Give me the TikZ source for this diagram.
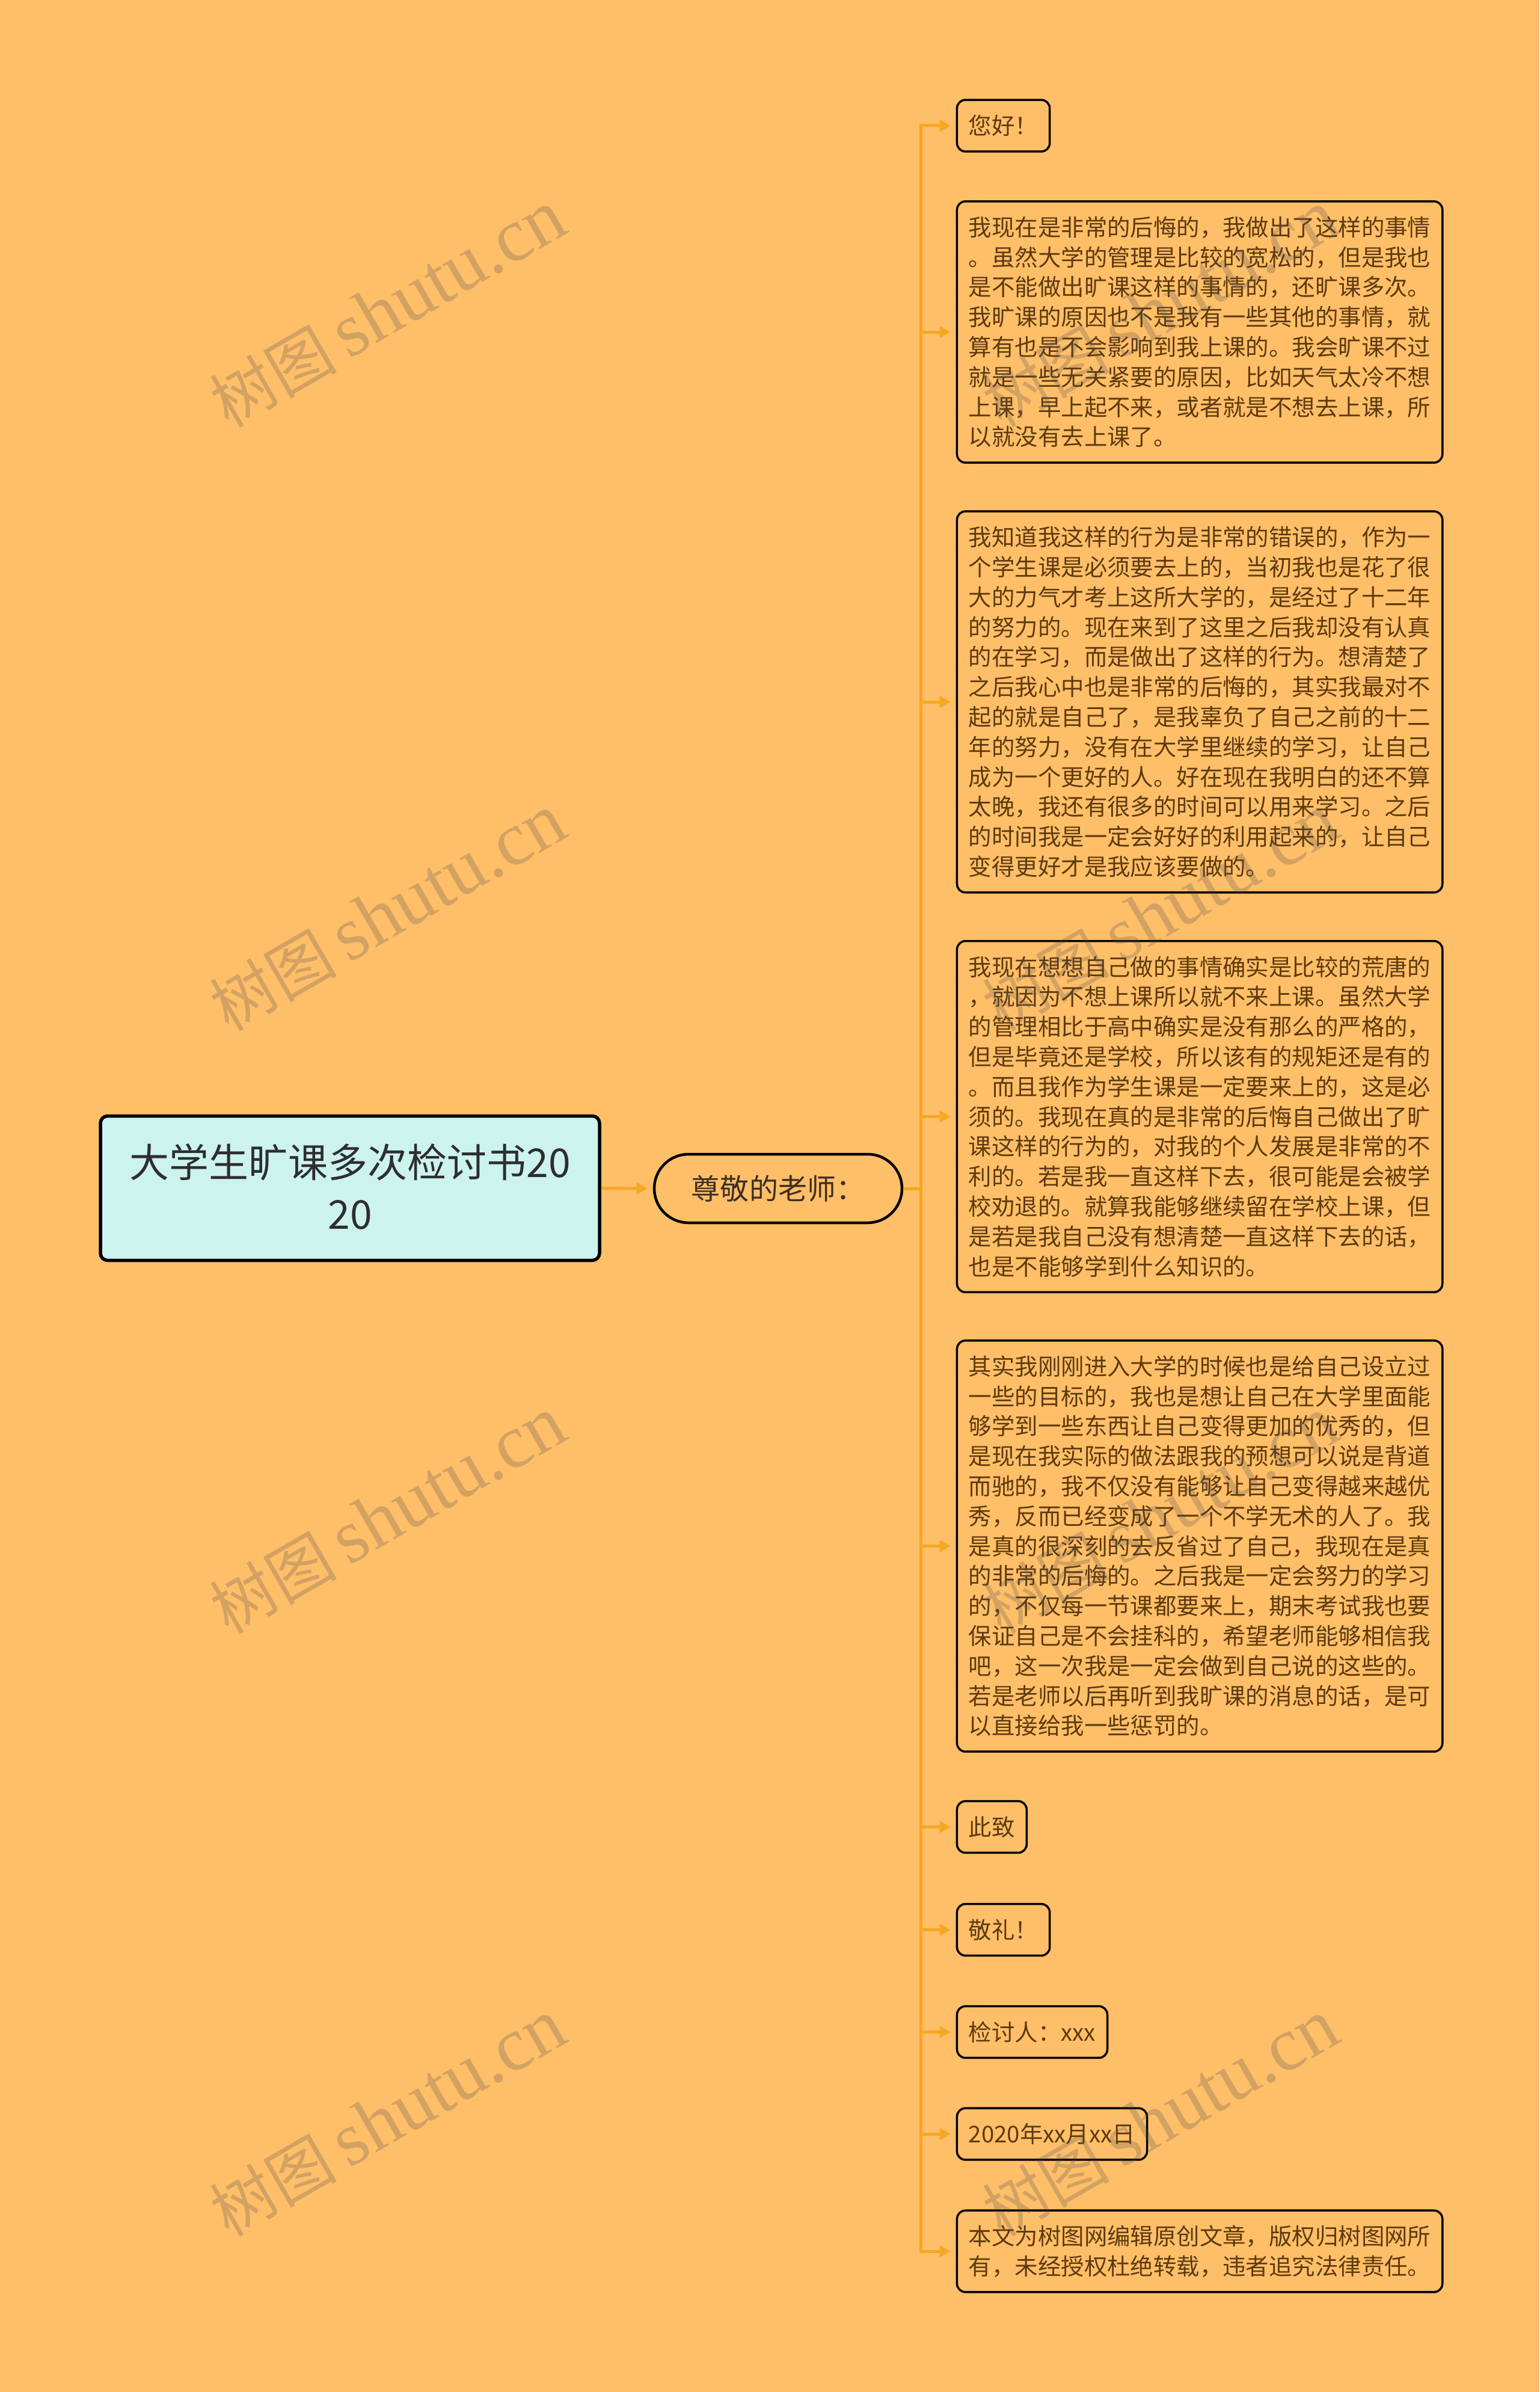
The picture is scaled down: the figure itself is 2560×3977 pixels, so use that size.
\documentclass[tikz,border=0pt]{standalone}
\usepackage{fontspec}
\setmainfont{Noto Sans CJK SC}
\newfontfamily\cjk{Noto Sans CJK SC}
\newfontfamily\wmlat{Liberation Serif}
\usetikzlibrary{arrows.meta}
\definecolor{bgcol}{HTML}{FFBF69}
\definecolor{conncol}{HTML}{F7A723}
\definecolor{rootfill}{HTML}{CCF3EE}
\definecolor{roottext}{HTML}{2E2E2E}
\definecolor{leaftext}{HTML}{5E3A0C}
\definecolor{zuntext}{HTML}{3E2F22}
\definecolor{wmcol}{HTML}{4F4F55}
\newcommand\leaffont{\fontsize{10.93pt}{14.17pt}\selectfont}
\newcommand\rootfont{\fontsize{18.78pt}{24.47pt}\selectfont}
\newcommand\zunfont{\fontsize{13.66pt}{17.07pt}\selectfont}
\newcommand\ls{\rule[-2.93pt]{0pt}{14.17pt}}
\newcommand\rs{\rule[-5.12pt]{0pt}{24.47pt}}
\newcommand\zs{\rule[-3.36pt]{0pt}{17.07pt}}
\newcommand\wmtext{{\fontsize{30pt}{34pt}\selectfont\cjk 树图}\hspace{2mm}{\fontsize{36pt}{40pt}\selectfont\wmlat shutu.cn}}
\tikzset{
  leaf/.style={draw=black, line width=0.35mm, rounded corners=1.4mm, fill=bgcol,
    text=leaftext, font=\leaffont, align=left, inner xsep=1.95mm, inner ysep=1.8mm, anchor=west},
  bigleaf/.style={leaf, minimum width=80.7mm},
  rootbox/.style={draw=black, line width=0.55mm, rounded corners=1.2mm, fill=rootfill,
    text=roottext, font=\rootfont, align=center, minimum width=83.0mm, minimum height=24.0mm, inner sep=0pt},
  zunbox/.style={draw=black, line width=0.45mm, rounded corners=5.7mm, fill=bgcol,
    text=zuntext, font=\zunfont, minimum width=41.2mm, minimum height=11.4mm, inner sep=0pt},
  conn/.style={draw=conncol, line width=0.5mm, -{Triangle[length=1.8mm,width=1.9mm]}},
  wm/.style={rotate=30, opacity=0.25, text=wmcol, inner sep=0pt}
}
\begin{document}
\begin{tikzpicture}[x=0.1mm,y=-0.1mm]
\useasboundingbox (0,0) rectangle (2560,3977);
\fill[bgcol] (0,0) rectangle (2560,3977);

\node[rootbox] (root) at (582,1975.5) {\rs 大学生旷课多次检讨书20\\20\rs};
\node[zunbox] (zun) at (1294,1976) {\zs 尊敬的老师：};
\coordinate (tr) at (1531,1976);

\node[leaf] (c1) at (1589.7,209) {\ls 您好！};
\node[bigleaf] (c2) at (1589.7,552) {\ls 我现在是非常的后悔的，我做出了这样的事情\\
。虽然大学的管理是比较的宽松的，但是我也\\
是不能做出旷课这样的事情的，还旷课多次。\\
我旷课的原因也不是我有一些其他的事情，就\\
算有也是不会影响到我上课的。我会旷课不过\\
就是一些无关紧要的原因，比如天气太冷不想\\
上课，早上起不来，或者就是不想去上课，所\\
以就没有去上课了。\ls};
\node[bigleaf] (c3) at (1589.7,1167) {\ls 我知道我这样的行为是非常的错误的，作为一\\
个学生课是必须要去上的，当初我也是花了很\\
大的力气才考上这所大学的，是经过了十二年\\
的努力的。现在来到了这里之后我却没有认真\\
的在学习，而是做出了这样的行为。想清楚了\\
之后我心中也是非常的后悔的，其实我最对不\\
起的就是自己了，是我辜负了自己之前的十二\\
年的努力，没有在大学里继续的学习，让自己\\
成为一个更好的人。好在现在我明白的还不算\\
太晚，我还有很多的时间可以用来学习。之后\\
的时间我是一定会好好的利用起来的，让自己\\
变得更好才是我应该要做的。\ls};
\node[bigleaf] (c4) at (1589.7,1856.5) {\ls 我现在想想自己做的事情确实是比较的荒唐的\\
，就因为不想上课所以就不来上课。虽然大学\\
的管理相比于高中确实是没有那么的严格的，\\
但是毕竟还是学校，所以该有的规矩还是有的\\
。而且我作为学生课是一定要来上的，这是必\\
须的。我现在真的是非常的后悔自己做出了旷\\
课这样的行为的，对我的个人发展是非常的不\\
利的。若是我一直这样下去，很可能是会被学\\
校劝退的。就算我能够继续留在学校上课，但\\
是若是我自己没有想清楚一直这样下去的话，\\
也是不能够学到什么知识的。\ls};
\node[bigleaf] (c5) at (1589.7,2570.5) {\ls 其实我刚刚进入大学的时候也是给自己设立过\\
一些的目标的，我也是想让自己在大学里面能\\
够学到一些东西让自己变得更加的优秀的，但\\
是现在我实际的做法跟我的预想可以说是背道\\
而驰的，我不仅没有能够让自己变得越来越优\\
秀，反而已经变成了一个不学无术的人了。我\\
是真的很深刻的去反省过了自己，我现在是真\\
的非常的后悔的。之后我是一定会努力的学习\\
的，不仅每一节课都要来上，期末考试我也要\\
保证自己是不会挂科的，希望老师能够相信我\\
吧，这一次我是一定会做到自己说的这些的。\\
若是老师以后再听到我旷课的消息的话，是可\\
以直接给我一些惩罚的。\ls};
\node[leaf] (c6) at (1589.7,3037.5) {\ls 此致};
\node[leaf] (c7) at (1589.7,3208.5) {\ls 敬礼！};
\node[leaf] (c8) at (1589.7,3378.5) {\ls 检讨人：xxx};
\node[leaf] (c9) at (1589.7,3548) {\ls 2020年xx月xx日};
\node[bigleaf] (c10) at (1589.7,3743) {\ls 本文为树图网编辑原创文章，版权归树图网所\\
有，未经授权杜绝转载，违者追究法律责任。\ls};

\draw[conn] (root.east) -- ([xshift=-0.9mm]zun.west);
\foreach \c in {c1,c2,c3,c4,c5,c6,c7,c8,c9,c10}{
  \draw[conn] (zun.east) -- (tr) |- ([xshift=-0.9mm]\c.west);
}

\foreach \y [count=\i] in {514,1518,2520,3522}{
  \node[wm] (wl\i) at (645,\y) {\wmtext};
  \node[wm] (wr\i) at (1930,\y) {\wmtext};
}
\end{tikzpicture}
\end{document}
